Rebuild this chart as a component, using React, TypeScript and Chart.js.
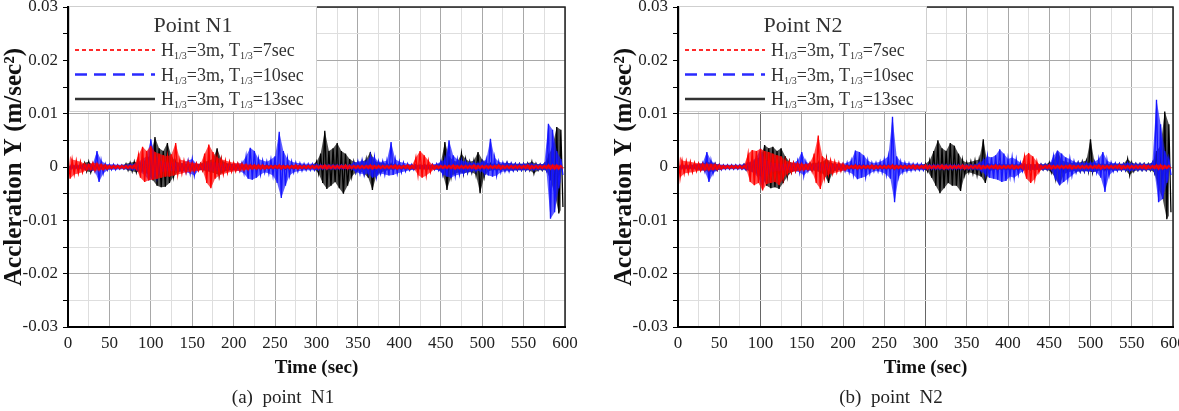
import { useEffect, useRef } from "react";
import { Chart, registerables } from "chart.js";

Chart.register(...registerables);

// ---------- data (envelope, units of 1e-4 m/sec², 5-sec bins) ----------
const BIN_SEC = 5;
const UNIT = 1e-4;

const X_MIN = 0;
const X_MAX = 600;
const X_STEP = 25;
const Y_MIN = -0.03;
const Y_MAX = 0.03;
const Y_STEP = 0.005;

const waveHeight = "3";
const wavePeriods = ["7", "10", "13"];
const panelTitles = ["Point N1", "Point N2"];
const panelCaptions = ["(a)  point  N1", "(b)  point  N2"];

// Point N1
const n1RedUpper = [
  28, 14, 12, 10, 6, 5, 8, 7, 5, 4,
  3, 3, 3, 3, 3, 3, 4, 22, 38, 30,
  40, 28, 25, 22, 20, 24, 45, 14, 12, 10,
  8, 7, 6, 25, 42, 28, 18, 15, 12, 10,
  8, 7, 6, 5, 4, 4, 4, 4, 3, 3,
  3, 4, 3, 3, 3, 4, 3, 3, 3, 3,
  3, 3, 4, 3, 3, 3, 3, 4, 3, 3,
  3, 3, 3, 4, 3, 3, 3, 3, 3, 4,
  3, 3, 4, 3, 18, 30, 22, 12, 4, 3,
  3, 3, 3, 4, 3, 3, 3, 3, 4, 3,
  3, 3, 3, 3, 4, 3, 3, 3, 3, 3,
  3, 4, 3, 3, 3, 3, 4, 4, 4, 3,
];
const n1RedLower = [
  -22, -14, -12, -10, -6, -5, -7, -6, -5, -4,
  -3, -3, -3, -3, -3, -3, -4, -20, -28, -25,
  -24, -22, -20, -18, -18, -16, -14, -12, -10, -9,
  -8, -7, -6, -30, -40, -22, -16, -13, -11, -9,
  -8, -7, -6, -5, -4, -4, -4, -4, -3, -3,
  -3, -4, -3, -3, -3, -4, -3, -3, -3, -3,
  -3, -3, -4, -3, -3, -3, -3, -4, -3, -3,
  -3, -3, -3, -4, -3, -3, -3, -3, -3, -4,
  -3, -3, -4, -3, -15, -20, -16, -10, -4, -3,
  -3, -3, -3, -4, -3, -3, -3, -3, -4, -3,
  -3, -3, -3, -3, -4, -3, -3, -3, -3, -3,
  -3, -4, -3, -3, -3, -3, -4, -4, -4, -3,
];
const n1BlueUpper = [
  5, 4, 4, 4, 4, 5, 6, 30, 12, 6,
  5, 5, 4, 4, 4, 5, 5, 10, 15, 20,
  52, 25, 12, 10, 8, 8, 7, 6, 8, 12,
  15, 6, 5, 6, 8, 10, 8, 7, 6, 6,
  6, 6, 8, 20, 36, 30, 15, 12, 10, 14,
  20, 66, 30, 15, 10, 8, 7, 6, 6, 6,
  5, 4, 4, 4, 4, 4, 4, 4, 4, 8,
  10, 12, 10, 20, 18, 10, 10, 12, 47, 15,
  10, 8, 6, 5, 4, 4, 4, 4, 5, 6,
  10, 14, 50, 22, 14, 12, 10, 8, 8, 7,
  10, 14, 53, 18, 10, 8, 8, 7, 6, 6,
  6, 6, 6, 5, 5, 6, 81, 70, 30, 15,
];
const n1BlueLower = [
  -5, -4, -4, -4, -5, -6, -8, -28, -12, -6,
  -5, -5, -4, -4, -4, -5, -5, -10, -15, -25,
  -22, -18, -10, -8, -8, -7, -8, -8, -10, -12,
  -16, -6, -5, -6, -8, -8, -7, -6, -6, -6,
  -6, -8, -12, -22, -24, -20, -14, -10, -12, -16,
  -30, -58, -35, -16, -10, -8, -7, -6, -6, -6,
  -5, -4, -4, -4, -4, -4, -4, -4, -4, -10,
  -12, -14, -12, -20, -18, -12, -14, -16, -15, -12,
  -10, -8, -6, -5, -4, -4, -4, -4, -5, -6,
  -14, -18, -20, -16, -14, -12, -10, -8, -8, -7,
  -12, -16, -18, -16, -10, -8, -8, -7, -6, -6,
  -6, -6, -6, -5, -5, -6, -97, -85, -40, -15,
];
const n1BlackUpper = [
  3, 3, 3, 3, 8, 10, 4, 4, 4, 4,
  3, 3, 3, 3, 6, 8, 10, 8, 10, 15,
  25, 56, 35, 30, 45, 20, 10, 8, 6, 6,
  5, 5, 6, 10, 12, 15, 35, 14, 8, 6,
  5, 4, 4, 3, 4, 3, 4, 3, 4, 3,
  4, 3, 4, 3, 4, 3, 4, 4, 3, 4,
  10, 25, 68, 30, 35, 45, 30, 25, 15, 10,
  8, 10, 14, 28, 12, 8, 8, 6, 6, 5,
  4, 3, 4, 3, 4, 3, 4, 4, 3, 4,
  8, 47, 20, 12, 10, 25, 15, 10, 12, 28,
  14, 8, 6, 6, 6, 6, 8, 6, 6, 6,
  6, 7, 10, 6, 5, 6, 20, 40, 75, 70,
];
const n1BlackLower = [
  -3, -3, -3, -3, -8, -10, -4, -4, -4, -4,
  -3, -3, -3, -3, -6, -8, -10, -8, -10, -15,
  -25, -35, -38, -37, -30, -18, -10, -8, -6, -6,
  -5, -5, -6, -8, -10, -12, -15, -10, -7, -6,
  -5, -4, -4, -3, -4, -3, -4, -3, -4, -3,
  -4, -3, -4, -3, -4, -3, -4, -4, -3, -4,
  -12, -30, -41, -35, -28, -40, -50, -35, -18, -10,
  -8, -12, -20, -43, -15, -10, -8, -5, -5, -4,
  -4, -4, -5, -4, -4, -4, -5, -4, -4, -5,
  -12, -43, -18, -12, -10, -12, -10, -10, -14, -49,
  -18, -8, -6, -6, -6, -6, -6, -6, -6, -6,
  -6, -6, -12, -6, -6, -6, -25, -50, -87, -75,
];

// Point N2
const n2RedUpper = [
  28, 12, 11, 10, 8, 7, 6, 6, 5, 5,
  4, 3, 3, 3, 3, 3, 3, 25, 32, 30,
  34, 30, 28, 25, 22, 20, 12, 10, 8, 7,
  6, 5, 8, 25, 59, 20, 14, 12, 10, 8,
  6, 3, 3, 4, 3, 3, 3, 4, 3, 3,
  3, 3, 4, 3, 3, 3, 3, 4, 3, 3,
  4, 3, 3, 3, 4, 3, 3, 3, 3, 4,
  3, 3, 3, 4, 3, 3, 3, 4, 3, 3,
  3, 4, 3, 3, 20, 26, 20, 10, 3, 3,
  4, 3, 3, 3, 3, 4, 3, 3, 3, 3,
  3, 3, 4, 3, 3, 3, 3, 4, 3, 3,
  3, 3, 3, 4, 3, 3, 4, 4, 3, 3,
];
const n2RedLower = [
  -20, -12, -11, -10, -8, -7, -6, -6, -5, -5,
  -4, -3, -3, -3, -3, -3, -3, -28, -34, -30,
  -44, -32, -30, -28, -34, -22, -12, -10, -8, -7,
  -6, -5, -8, -30, -41, -20, -14, -12, -10, -8,
  -6, -3, -3, -4, -3, -3, -3, -4, -3, -3,
  -3, -3, -4, -3, -3, -3, -3, -4, -3, -3,
  -4, -3, -3, -3, -4, -3, -3, -3, -3, -4,
  -3, -3, -3, -4, -3, -3, -3, -4, -3, -3,
  -3, -4, -3, -3, -22, -30, -22, -10, -3, -3,
  -4, -3, -3, -3, -3, -4, -3, -3, -3, -3,
  -3, -3, -4, -3, -3, -3, -3, -4, -3, -3,
  -3, -3, -3, -4, -3, -3, -4, -4, -3, -3,
];
const n2BlueUpper = [
  5, 4, 4, 4, 5, 6, 8, 28, 12, 6,
  5, 4, 4, 4, 4, 4, 5, 8, 12, 18,
  34, 15, 10, 8, 7, 6, 6, 6, 8, 12,
  28, 10, 6, 5, 6, 6, 6, 6, 6, 6,
  6, 8, 12, 31, 28, 22, 12, 8, 8, 10,
  14, 20, 94, 20, 10, 8, 7, 6, 6, 6,
  4, 4, 4, 4, 4, 4, 4, 4, 4, 4,
  4, 4, 4, 8, 12, 20, 18, 22, 33, 25,
  15, 18, 14, 8, 5, 5, 5, 5, 5, 5,
  5, 20, 31, 25, 18, 15, 10, 8, 8, 8,
  8, 10, 15, 28, 12, 8, 7, 6, 6, 8,
  6, 6, 6, 6, 5, 8, 126, 80, 30, 15,
];
const n2BlueLower = [
  -5, -4, -4, -4, -5, -6, -8, -28, -12, -6,
  -5, -4, -4, -4, -4, -4, -5, -8, -12, -20,
  -38, -18, -10, -8, -7, -6, -6, -6, -8, -10,
  -16, -8, -6, -5, -6, -6, -6, -6, -6, -6,
  -8, -10, -14, -23, -20, -18, -12, -8, -8, -10,
  -14, -22, -66, -18, -10, -8, -7, -6, -6, -6,
  -4, -4, -4, -4, -4, -4, -4, -4, -4, -4,
  -4, -4, -4, -8, -14, -20, -22, -24, -28, -26,
  -18, -20, -14, -8, -5, -5, -5, -5, -5, -5,
  -5, -24, -34, -28, -22, -16, -10, -8, -8, -8,
  -8, -10, -20, -47, -16, -8, -7, -6, -6, -8,
  -6, -6, -6, -6, -5, -8, -66, -60, -30, -15,
];
const n2BlackUpper = [
  3, 3, 3, 3, 4, 5, 6, 10, 8, 6,
  4, 3, 3, 3, 3, 3, 5, 8, 10, 15,
  20, 41, 35, 38, 30, 35, 20, 10, 7, 6,
  5, 5, 6, 8, 8, 10, 15, 8, 6, 5,
  4, 4, 4, 4, 4, 4, 4, 4, 4, 4,
  4, 4, 4, 4, 4, 4, 4, 4, 4, 4,
  6, 12, 30, 50, 35, 30, 45, 40, 25, 12,
  8, 10, 12, 14, 52, 8, 5, 5, 5, 5,
  5, 5, 5, 5, 5, 5, 5, 5, 5, 5,
  8, 10, 30, 12, 10, 8, 8, 8, 10, 12,
  52, 8, 6, 6, 6, 6, 6, 6, 6, 15,
  8, 6, 6, 6, 6, 8, 30, 40, 104, 80,
];
const n2BlackLower = [
  -3, -3, -3, -3, -4, -5, -6, -10, -8, -6,
  -4, -3, -3, -3, -3, -3, -5, -8, -10, -15,
  -20, -35, -40, -38, -41, -30, -18, -10, -7, -6,
  -5, -5, -6, -8, -10, -15, -30, -10, -6, -5,
  -4, -4, -4, -4, -4, -4, -4, -4, -4, -4,
  -4, -4, -4, -4, -4, -4, -4, -4, -4, -4,
  -8, -20, -35, -49, -40, -30, -35, -35, -45, -15,
  -10, -12, -15, -18, -30, -8, -5, -5, -5, -5,
  -5, -5, -5, -5, -5, -5, -5, -5, -5, -5,
  -10, -20, -34, -14, -10, -8, -8, -8, -8, -8,
  -10, -8, -6, -6, -6, -6, -6, -6, -6, -15,
  -8, -6, -6, -6, -6, -10, -40, -60, -98, -85,
];

// darker vertical grid lines seen in panel (b)
const n2DarkGridX = [100, 300];

// ---------- styles ----------
const SERIF = '"Liberation Serif", "Times New Roman", serif';
const seriesColors = ["#ff0000", "#1414ff", "#000000"];
const seriesFills = ["rgba(255,0,0,0.68)", "rgba(20,20,255,0.68)", "rgba(0,0,0,0.68)"];
const legendColors = ["#ff2a2a", "#2a2aff", "#333333"];
const legendDashes = [[4, 3], [12, 7], []];
const legendWidths = [2, 2.5, 2.5];

function envelopePoints(values: number[], offset: number) {
  return values.map((v, i) => ({ x: i * BIN_SEC + offset, y: v * UNIT }));
}

function zigzagPoints(upper: number[], lower: number[]) {
  const pts: { x: number; y: number }[] = [];
  upper.forEach((u, i) => {
    pts.push({ x: i * BIN_SEC, y: u * UNIT });
    pts.push({ x: i * BIN_SEC + BIN_SEC / 2, y: lower[i] * UNIT });
  });
  return pts;
}

const frameLegendPlugin = {
  id: "frameLegend",
  afterDatasetsDraw(chart: any, _args: any, opts: any) {
    const { ctx, chartArea: a } = chart;
    ctx.save();
    ctx.strokeStyle = "#222";
    ctx.lineWidth = 1.5;
    ctx.beginPath();
    ctx.moveTo(a.left, a.top);
    ctx.lineTo(a.right, a.top);
    ctx.lineTo(a.right, a.bottom);
    ctx.stroke();

    const bx = a.left + 1;
    const by = a.top - 1;
    const bw = 248;
    const bh = 106;
    ctx.fillStyle = "#ffffff";
    ctx.fillRect(bx, by, bw, bh);
    ctx.strokeStyle = "#cfcfcf";
    ctx.lineWidth = 1;
    ctx.strokeRect(bx + 0.5, by + 0.5, bw - 1, bh - 1);

    ctx.fillStyle = "#333";
    ctx.font = `22px ${SERIF}`;
    ctx.textAlign = "center";
    ctx.textBaseline = "middle";
    ctx.fillText(opts.title, bx + bw / 2, a.top + 19);

    ctx.textAlign = "left";
    ctx.textBaseline = "alphabetic";
    const entries = chart.data.datasets.filter((ds: any) => ds.period);
    entries.forEach((ds: any, i: number) => {
      const y = a.top + 43 + i * 24.5;
      ctx.strokeStyle = legendColors[i];
      ctx.lineWidth = legendWidths[i];
      ctx.setLineDash(legendDashes[i]);
      ctx.beginPath();
      ctx.moveTo(a.left + 7, y);
      ctx.lineTo(a.left + 87, y);
      ctx.stroke();
      ctx.setLineDash([]);

      const parts: [string, boolean][] = [
        ["H", false],
        ["1/3", true],
        [`=${waveHeight}m, T`, false],
        ["1/3", true],
        [`=${ds.period}sec`, false],
      ];
      let x = a.left + 93;
      const base = y + 6;
      ctx.fillStyle = "#333";
      parts.forEach(([txt, sub]) => {
        ctx.font = sub ? `10px ${SERIF}` : `18px ${SERIF}`;
        ctx.fillText(txt, x, sub ? base + 3 : base);
        x += ctx.measureText(txt).width;
      });
    });

    ctx.strokeStyle = "#000";
    ctx.lineWidth = 2;
    ctx.beginPath();
    ctx.moveTo(a.left, a.top - 1);
    ctx.lineTo(a.left, a.bottom);
    ctx.lineTo(a.right + 1, a.bottom);
    ctx.stroke();
    ctx.restore();
  },
};

type PanelProps = {
  index: number;
  series: [number[], number[]][];
  darkX: number[];
};

function Panel({ index, series, darkX }: PanelProps) {
  const ref = useRef<HTMLCanvasElement | null>(null);

  useEffect(() => {
    if (!ref.current) return;
    const datasets: any[] = [];
    series.forEach(([up, lo], i) => {
      datasets.push({
        label: `T=${wavePeriods[i]}`,
        period: wavePeriods[i],
        data: zigzagPoints(up, lo),
        borderColor: seriesColors[i],
        borderWidth: 1.3,
        pointRadius: 0,
        tension: 0,
        fill: false,
      });
      datasets.push({
        label: `T=${wavePeriods[i]} upper`,
        data: envelopePoints(up, 0),
        borderWidth: 0,
        borderColor: "rgba(0,0,0,0)",
        backgroundColor: seriesFills[i],
        pointRadius: 0,
        tension: 0,
        fill: "+1",
      });
      datasets.push({
        label: `T=${wavePeriods[i]} lower`,
        data: envelopePoints(lo, BIN_SEC / 2),
        borderWidth: 0,
        borderColor: "rgba(0,0,0,0)",
        pointRadius: 0,
        tension: 0,
        fill: false,
      });
    });

    const chart = new Chart(ref.current, {
      type: "line",
      data: { datasets },
      options: {
        responsive: false,
        animation: false,
        events: [],
        layout: { padding: { left: 0, top: 7, right: index === 0 ? 35 : 37, bottom: 32 } },
        plugins: {
          legend: { display: false },
          tooltip: { enabled: false },
          frameLegend: { title: panelTitles[index] },
        } as any,
        scales: {
          x: {
            type: "linear",
            min: X_MIN,
            max: X_MAX,
            afterFit(scale: any) {
              scale.height = 52;
              scale.paddingLeft = 0;
              scale.paddingRight = 0;
            },
            ticks: {
              stepSize: X_STEP,
              autoSkip: false,
              maxRotation: 0,
              padding: 6,
              color: "#222",
              font: { family: SERIF, size: 17 },
              callback: (v: any) => (Number(v) % 50 === 0 ? String(v) : ""),
            },
            grid: {
              drawTicks: false,
              color: (c: any) => {
                const v = c.tick ? c.tick.value : 0;
                if (darkX.includes(v)) return "#666";
                return v % 50 === 0 ? "#a8a8a8" : "#dedede";
              },
            },
            border: { color: "#000", width: 2 },
            title: {
              display: true,
              text: "Time (sec)",
              color: "#111",
              padding: { top: 0, bottom: 0 },
              font: { family: SERIF, size: 19, weight: "bold" },
            },
          },
          y: {
            type: "linear",
            min: Y_MIN,
            max: Y_MAX,
            afterFit(scale: any) {
              scale.width = 68;
              scale.paddingTop = 0;
              scale.paddingBottom = 0;
            },
            ticks: {
              stepSize: Y_STEP,
              autoSkip: false,
              padding: 5,
              color: "#222",
              font: { family: SERIF, size: 17 },
              callback: (v: any) => {
                const k = Math.round(Number(v) * 200);
                if (k % 2 !== 0) return "";
                const val = k / 200;
                return val === 0 ? "0" : val.toFixed(2);
              },
            },
            grid: {
              tickLength: 5,
              tickColor: "#000",
              color: (c: any) => {
                const v = c.tick ? c.tick.value : 0;
                return Math.round(v * 200) % 2 === 0 ? "#a8a8a8" : "#dedede";
              },
            },
            border: { color: "#000", width: 2 },
            title: {
              display: true,
              text: "Accleration Y (m/sec²)",
              color: "#111",
              padding: { top: 0, bottom: 0 },
              font: { family: SERIF, size: 25, weight: "bold" },
            },
          },
        },
      } as any,
      plugins: [frameLegendPlugin as any],
    });
    return () => chart.destroy();
  }, []);

  return (
    <canvas
      ref={ref}
      width={600}
      height={411}
      style={{ position: "absolute", left: index === 0 ? 0 : 610, top: 0, display: "block" }}
    />
  );
}

export default function App() {
  const n1: [number[], number[]][] = [
    [n1RedUpper, n1RedLower],
    [n1BlueUpper, n1BlueLower],
    [n1BlackUpper, n1BlackLower],
  ];
  const n2: [number[], number[]][] = [
    [n2RedUpper, n2RedLower],
    [n2BlueUpper, n2BlueLower],
    [n2BlackUpper, n2BlackLower],
  ];
  const captionStyle = (cx: number): React.CSSProperties => ({
    position: "absolute",
    left: cx - 100,
    width: 200,
    top: 386,
    textAlign: "center",
    fontFamily: SERIF,
    fontSize: 19,
    lineHeight: "22px",
    color: "#222",
    whiteSpace: "pre",
  });
  return (
    <div
      style={{
        position: "absolute",
        left: 0,
        top: 0,
        width: 1179,
        height: 411,
        overflow: "hidden",
        background: "#fff",
      }}
    >
      <Panel index={0} series={n1} darkX={[]} />
      <Panel index={1} series={n2} darkX={n2DarkGridX} />
      <div style={captionStyle(283)}>{panelCaptions[0]}</div>
      <div style={captionStyle(891)}>{panelCaptions[1]}</div>
    </div>
  );
}
